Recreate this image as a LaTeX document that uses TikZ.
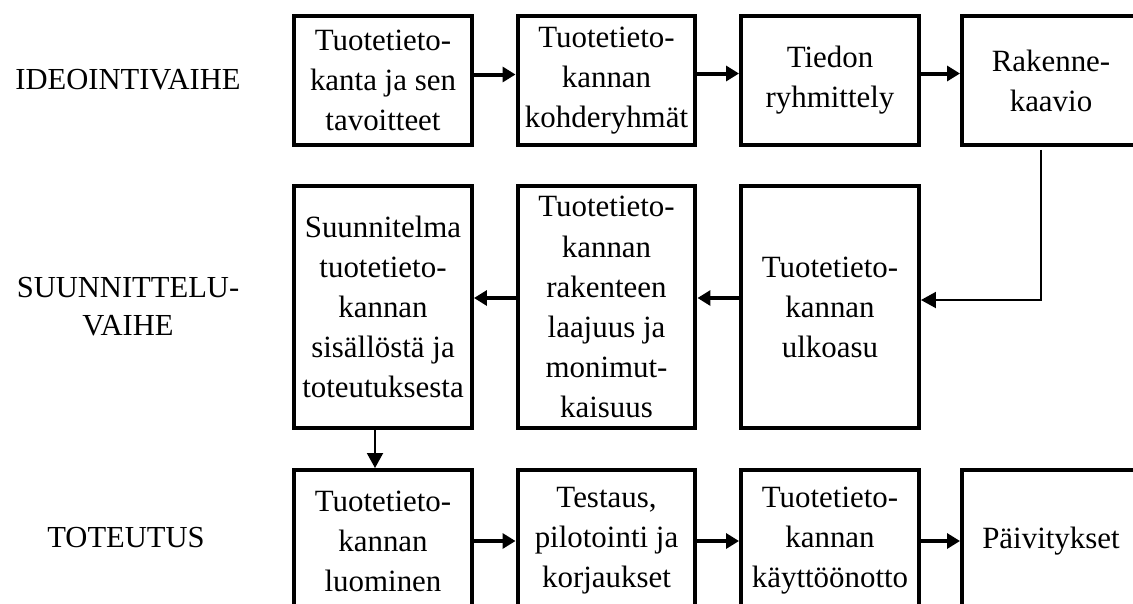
\documentclass[tikz,border=0pt]{standalone}
\usepackage{fontspec}
\setmainfont{Liberation Serif}
\usetikzlibrary{arrows.meta}

\begin{document}
\begin{tikzpicture}[x=0.02cm,y=-0.02cm,
	box/.style={draw,line width=0.08cm,minimum width=3.56cm,inner sep=0pt,
		align=center,font=\fontsize{17.6}{22.8}\selectfont},
	ideabox/.style={box,minimum height=2.58cm},
	planbox/.style={box,minimum height=4.84cm},
	makebox/.style={box,minimum height=2.84cm},
	phase/.style={align=center,font=\fontsize{17.4}{21.6}\selectfont},
	fat/.style={line width=0.08cm,-{Triangle[length=0.26cm,width=0.3cm]}},
	slim/.style={line width=0.04cm,-{Triangle[length=0.3cm,width=0.32cm]}}]

	\useasboundingbox (0,0) rectangle (1133,603);
	\clip (0,0) rectangle (1133,603);

	% vaiheet
	\node[phase] (ideo) at (128,80) {IDEOINTIVAIHE};
	\node[phase] (suunn) at (128,307) {SUUNNITTELU-\\VAIHE};
	\node[phase] (tot) at (126,538) {TOTEUTUS};

	% ideointi
	\node[ideabox] (kanta) at (383,80.5) {Tuotetieto-\\kanta ja sen\\tavoitteet};
	\node[ideabox] (ryhmat) at (606.5,80.5) {Tuotetieto-\\kannan\\kohderyhmät};
	\node[ideabox] (tiedon) at (830,80.5) {Tiedon\\ryhmittely};
	\node[ideabox] (kaavio) at (1051,80.5) {Rakenne-\\kaavio};

	% suunnittelu
	\node[planbox] (suun) at (383,307) {Suunnitelma\\tuotetieto-\\kannan\\sisällöstä ja\\toteutuksesta};
	\node[planbox] (laaj) at (606.5,307) {Tuotetieto-\\kannan\\rakenteen\\laajuus ja\\monimut-\\kaisuus};
	\node[planbox] (ulko) at (830,307) {Tuotetieto-\\kannan\\ulkoasu};

	% toteutus
	\node[makebox] (luo) at (383,541) {Tuotetieto-\\kannan\\luominen};
	\node[makebox] (testi) at (606.5,541) {Testaus,\\pilotointi ja\\korjaukset};
	\node[makebox] (kaytto) at (830,541) {Tuotetieto-\\kannan\\käyttöönotto};
	\node[makebox] (paiv) at (1051,541) {Päivitykset};

	\draw[fat] ([yshift=0.12cm]kanta.east) -- ([yshift=0.12cm]ryhmat.west);
	\draw[fat] ([yshift=0.14cm]ryhmat.east) -- ([yshift=0.14cm]tiedon.west);
	\draw[fat] ([yshift=0.14cm]tiedon.east) -- ([yshift=0.14cm]kaavio.west);

	\draw[slim] ([xshift=-0.2cm,yshift=-0.06cm]kaavio.south) |- ([yshift=0.14cm]ulko.east);
	\draw[fat] ([yshift=0.18cm]ulko.west) -- ([yshift=0.18cm]laaj.east);
	\draw[fat] ([yshift=0.18cm]laaj.west) -- ([yshift=0.18cm]suun.east);

	\draw[slim] ([xshift=-0.16cm]suun.south) -- ([xshift=-0.16cm]luo.north);

	\draw[fat] (luo.east) -- (testi.west);
	\draw[fat] (testi.east) -- (kaytto.west);
	\draw[fat] (kaytto.east) -- (paiv.west);

\end{tikzpicture}
\end{document}
